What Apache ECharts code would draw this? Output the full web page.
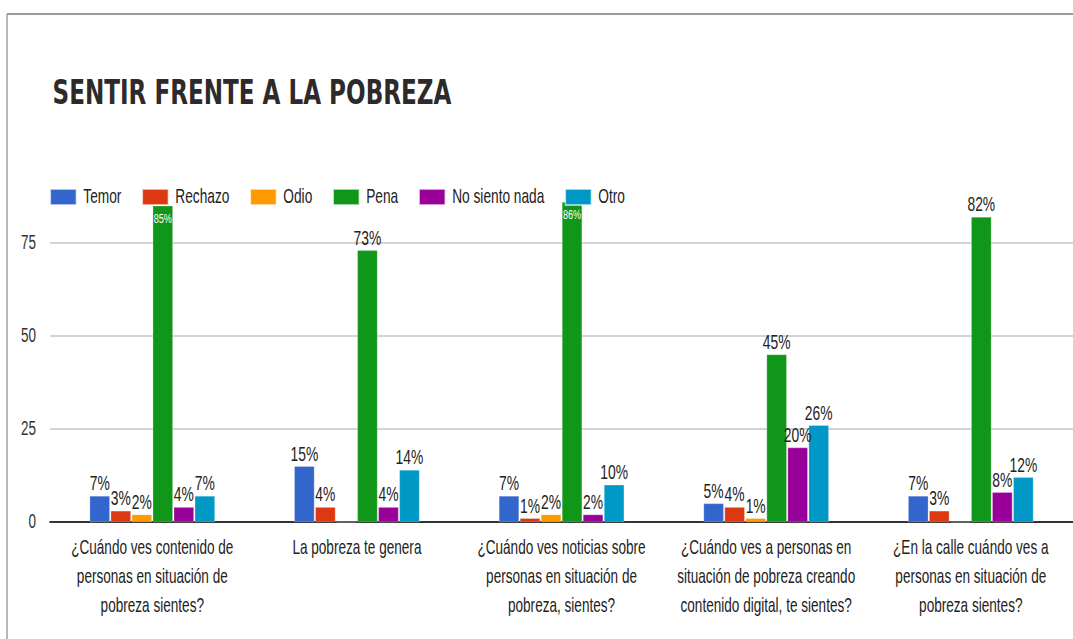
<!DOCTYPE html>
<html>
<head>
<meta charset="utf-8">
<script src="https://cdn.jsdelivr.net/npm/echarts@6/dist/echarts.min.js"></script>
<style>
html,body{margin:0;padding:0;background:#fff;overflow:hidden;width:1073px;height:639px;}
#c{width:1533px;height:639px;transform:scaleX(0.7);transform-origin:0 0;}
</style>
</head>
<body>
<div id="c"></div>
<script>
const categories = [
  '¿Cuándo ves contenido de\npersonas en situación de\npobreza sientes?',
  'La pobreza te genera',
  '¿Cuándo ves noticias sobre\npersonas en situación de\npobreza, sientes?',
  '¿Cuándo ves a personas en\nsituación de pobreza creando\ncontenido digital, te sientes?',
  '¿En la calle cuándo ves a\npersonas en situación de\npobreza sientes?'
];
const seriesNames = ['Temor', 'Rechazo', 'Odio', 'Pena', 'No siento nada', 'Otro'];
const temor = [7, 15, 7, 5, 7];
const rechazo = [3, 4, 1, 4, 3];
const odio = [2, 0, 2, 1, 0];
const pena = [85, 73, 86, 45, 82];
const noSientoNada = [4, 4, 2, 20, 8];
const otro = [7, 14, 10, 26, 12];
const yTicks = [0, 25, 50, 75];

const colors = ['#3366cc', '#dc3912', '#ff9900', '#109618', '#990099', '#0099c6'];
const FONT = '"Liberation Sans", Arial, sans-serif';
const allValues = [temor, rechazo, odio, pena, noSientoNada, otro];

function mkData(arr) {
  return arr.map(v => {
    if (v >= 84) {
      return { value: v, label: { position: 'insideTop', distance: 6, color: '#fff', fontSize: 13 } };
    }
    return { value: v };
  });
}

const chart = echarts.init(document.getElementById('c'), null, { renderer: 'svg' });
chart.setOption({
  animation: false,
  color: colors,
  title: {
    text: 'SENTIR FRENTE A LA POBREZA',
    left: 70, top: 71,
    textStyle: { fontFamily: '"DejaVu Sans", sans-serif', fontSize: 33, fontWeight: 'bold', color: '#2e2a2a' }
  },
  legend: {
    data: seriesNames,
    left: 66, top: 182,
    itemWidth: 37, itemHeight: 16, itemGap: 29,
    icon: 'rect',
    textStyle: { fontFamily: FONT, fontSize: 19.6, color: '#222', padding: [0, 0, 0, 5] }
  },
  graphic: [
    { type: 'line', shape: { x1: 10, y1: 14, x2: 1533, y2: 14 }, style: { stroke: '#9a9a9a', lineWidth: 2 } },
    { type: 'line', shape: { x1: 10, y1: 14, x2: 10, y2: 639 }, style: { stroke: '#9a9a9a', lineWidth: 2 } }
  ],
  grid: { left: 71.4, top: 202, right: 0, height: 320 },
  xAxis: {
    type: 'category',
    data: categories,
    axisTick: { show: false },
    axisLine: { lineStyle: { color: '#333', width: 2 } },
    axisLabel: { fontFamily: FONT, fontSize: 19.4, color: '#222', lineHeight: 29, margin: 11, interval: 0 }
  },
  yAxis: {
    type: 'value',
    min: 0, max: 86, interval: 25,
    axisLine: { show: false },
    axisTick: { show: false },
    axisLabel: {
      fontFamily: FONT, fontSize: 19.3, color: '#333', margin: 20,
      showMaxLabel: false,
      formatter: v => yTicks.includes(v) ? String(v) : ''
    },
    splitLine: { showMaxLine: false, lineStyle: { color: '#d4d4d4', width: 2 } }
  },
  series: seriesNames.map((name, i) => ({
    name: name,
    type: 'bar',
    data: mkData(allValues[i]),
    barWidth: 28.6,
    barGap: '5%',
    itemStyle: { borderColor: 'rgba(255,255,255,0.6)', borderWidth: 0.5 },
    label: {
      show: true, position: 'top', distance: 2,
      fontFamily: FONT, fontSize: 19.8, color: '#222',
      formatter: p => p.value > 0 ? p.value + '%' : ''
    }
  }))
});
</script>
</body>
</html>
